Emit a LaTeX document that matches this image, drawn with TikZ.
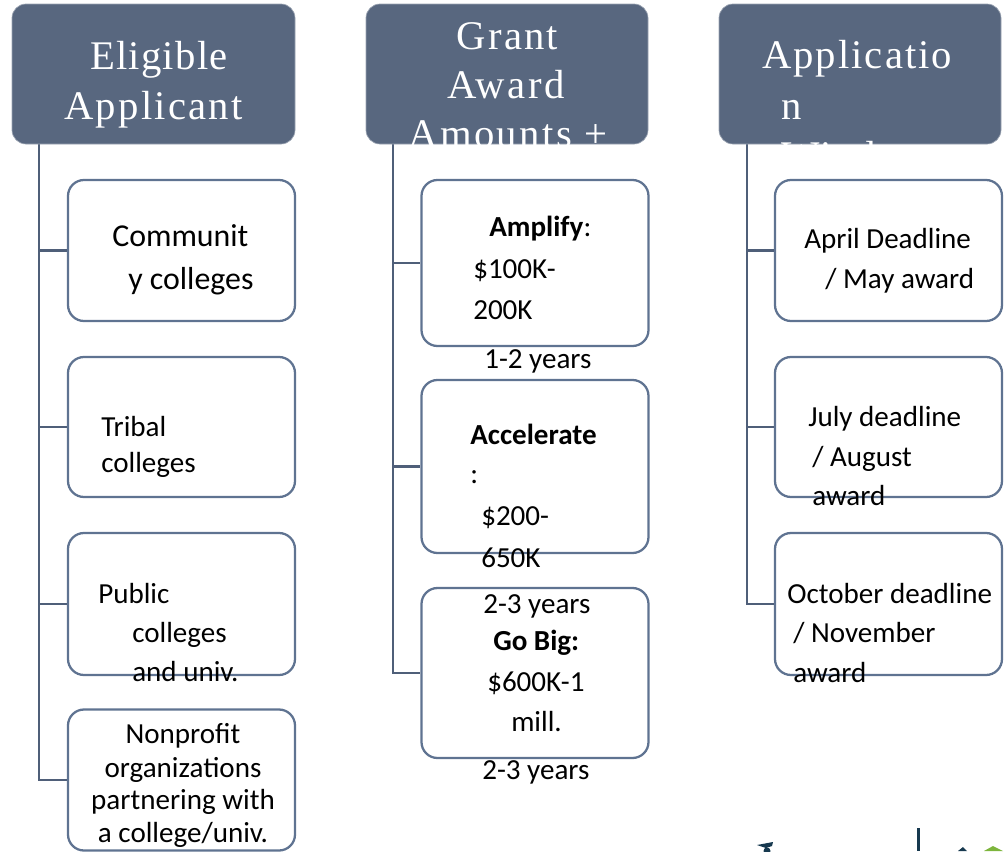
\documentclass[tikz,border=0pt]{standalone}
\usepackage{fontspec}
\setmainfont{Carlito}
\newfontfamily\hdfont[LetterSpace=5]{Liberation Serif}
\newfontfamily\hdtight[LetterSpace=3]{Liberation Serif}
\newfontfamily\hdwide[LetterSpace=6]{Liberation Serif}
\definecolor{hd}{HTML}{58677F}
\definecolor{ln}{HTML}{4F5F79}
\definecolor{bx}{HTML}{5F7391}
\definecolor{nv}{HTML}{17394F}
\definecolor{lg}{HTML}{7DB53C}
\tikzset{x=0.75pt,y=-0.75pt,
 headbox/.style={fill=hd,draw=hd!60!white,line width=0.5pt,rounded corners=10.5pt},
 kidbox/.style={draw=bx,line width=1.7pt,rounded corners=12pt,inner sep=0pt,minimum width=170.25pt},
 spine/.style={draw=ln,line width=1.7pt},
 ht/.style={font=\fontsize{30.5}{30.5}\selectfont\hdfont,text=white,anchor=base west,inner sep=0pt},
 bt/.style={font=\fontsize{23.9}{23.9}\selectfont,text=black,anchor=base west,inner sep=0pt},
 st/.style={font=\fontsize{21.8}{21.8}\selectfont,text=black,anchor=base west,inner sep=0pt},
 ct/.style={font=\fontsize{21.8}{21.8}\selectfont,text=black,anchor=base,inner sep=0pt}}
\begin{document}
\begin{tikzpicture}
\useasboundingbox (0,0) rectangle (1004,851);
% boxes
\node[kidbox,minimum height=105.75pt] (a1) at (181.5,250.5) {};
\node[kidbox,minimum height=105pt] (a2) at (181.5,427) {};
\node[kidbox,minimum height=106.5pt] (a3) at (181.5,604) {};
\node[kidbox,minimum height=105.75pt] (a4) at (181.5,780) {};
\node[kidbox,minimum height=124.5pt] (b1) at (535,263) {};
\node[kidbox,minimum height=129.75pt] (b2) at (535,466.5) {};
\node[kidbox,minimum height=127.5pt] (b3) at (535,673) {};
\node[kidbox,minimum height=105.75pt] (c1) at (888.5,250.5) {};
\node[kidbox,minimum height=105pt] (c2) at (888.5,427) {};
\node[kidbox,minimum height=106.5pt] (c3) at (888.5,604) {};
% connectors
\coordinate (s1) at (39,144);\coordinate (s2) at (393,144);\coordinate (s3) at (747,144);
\foreach \e in {a1,a2,a3,a4}{\draw[spine] (s1) |- (\e.west);}
\foreach \e in {b1,b2,b3}{\draw[spine] (s2) |- (\e.west);}
\foreach \e in {c1,c2,c3}{\draw[spine] (s3) |- (\e.west);}
% headers
\path[headbox] (12,4) rectangle (295,144);
\path[headbox] (366,4) rectangle (648,144);
\path[headbox] (719,4) rectangle (1001,144);
\begin{scope}
\clip (0,0) rectangle (1004,144);
\node[ht] (h1a) at (90,69) {\hdtight Eligib\kern1.2pt le};
\node[ht] (h1b) at (64,119) {Ap\kern2pt p\kern2pt lican\kern2pt t};
\node[ht] (h2a) at (456,49) {\hdwide Gran\kern1.5pt t};
\node[ht] (h2b) at (447.5,98) {\hdwide Award};
\node[ht] (h2c) at (408,147) {\hdwide Amounts +};
\node[ht] (h3a) at (762,68) {Ap\kern1.5pt p\kern1.5pt licatio};
\node[ht] (h3b) at (781,119) {n};
\node[ht] (h3c) at (781,169) {Window};
\end{scope}
% column 1 text
\node[bt] (t1) at (112,246.5) {Communit};
\node[bt] (t2) at (128,289.5) {y colleges};
\node[st] (t3) at (101,436) {Tribal};
\node[st] (t4) at (101,472) {colleges};
\node[st] (t5) at (98,603) {Public};
\node[st] (t6) at (132,642) {colleges};
\node[st] (t7) at (132,681) {and univ.};
\node[ct] (t8) at (183,743) {Nonprofit};
\node[ct] (t9) at (183,777) {organizations};
\node[ct] (t10) at (183,809) {partnering with};
\node[ct] (t11) at (183,842) {a college/univ.};
% column 2 text
\node[st] (u1) at (489,236) {\textbf{Amplify}:};
\node[st] (u2) at (473,278) {\$100K-};
\node[st] (u3) at (473,319) {200K};
\node[st] (u4) at (484,368) {1-2 years};
\node[st] (u5) at (470,444) {\textbf{Accelerate}};
\node[st] (u6) at (470,483) {:};
\node[st] (u7) at (481,525) {\$200-};
\node[st] (u8) at (481,567) {650K};
\node[st] (u9) at (483,613) {2-3 years};
\node[st] (u10) at (493,650) {\textbf{Go Big:}};
\node[st] (u11) at (487,691) {\$600K-1};
\node[st] (u12) at (511,731) {mill.};
\node[st] (u13) at (482,779) {2-3 years};
% column 3 text
\node[st] (v1) at (804,248) {April Deadline};
\node[st] (v2) at (825,288) {/ May award};
\node[st] (v3) at (808,426) {July deadline};
\node[st] (v4) at (812,466) {/ August};
\node[st] (v5) at (812,505) {award};
\node[st] (v6) at (787,603) {October deadline};
\node[st] (v7) at (793,642) {/ November};
\node[st] (v8) at (793,682) {award};
% logo fragments
\begin{scope}
\clip (700,750) rectangle (1004,851);
\fill[nv] (917,828) rectangle (920,851);
\fill[nv] (757,845) -- (773,842) -- (772,846) -- (766,848) -- cycle;
\fill[nv] (767,851) circle (3.5);
\fill[nv] (958,851) -- (963,847) -- (967,851) -- cycle;
\fill[lg] (984,851) -- (993,846) -- (1003,851) -- cycle;
\end{scope}
\end{tikzpicture}
\end{document}
